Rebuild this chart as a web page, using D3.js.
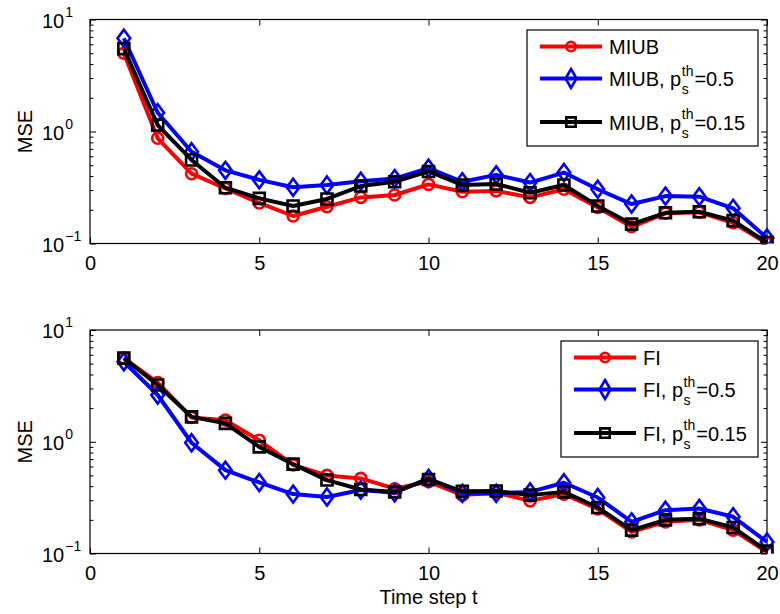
<!DOCTYPE html>
<html>
<head>
<meta charset="utf-8">
<script src="https://cdn.jsdelivr.net/npm/d3@7"></script>
<style>
  html, body { margin: 0; padding: 0; background: #fff; }
  svg { display: block; }
</style>
</head>
<body>
<svg id="chart" width="780" height="614"></svg>
<script>
// ---------------- data ----------------
const timeSteps = [1, 2, 3, 4, 5, 6, 7, 8, 9, 10, 11, 12, 13, 14, 15, 16, 17, 18, 19, 20];
const xTicks = [0, 5, 10, 15, 20];
const yMajorTicks = [0.1, 1, 10];
const yTickExponents = ["\u22121", "0", "1"];

const miub     = [5.0, 0.87, 0.42, 0.31, 0.23, 0.176, 0.213, 0.258, 0.271, 0.337, 0.29, 0.295, 0.258, 0.305, 0.21, 0.141, 0.186, 0.19, 0.153, 0.100];
const miub05   = [6.8, 1.47, 0.66, 0.45, 0.37, 0.318, 0.333, 0.36, 0.38, 0.47, 0.356, 0.41, 0.35, 0.43, 0.305, 0.225, 0.265, 0.262, 0.206, 0.112];
const miub015  = [5.5, 1.14, 0.557, 0.315, 0.253, 0.216, 0.25, 0.326, 0.356, 0.44, 0.333, 0.34, 0.284, 0.333, 0.216, 0.149, 0.188, 0.192, 0.16, 0.102];

const fi       = [5.6, 3.38, 1.65, 1.56, 1.03, 0.62, 0.50, 0.47, 0.38, 0.44, 0.333, 0.35, 0.296, 0.34, 0.25, 0.156, 0.192, 0.2, 0.162, 0.103];
const fi05     = [5.2, 2.62, 0.98, 0.557, 0.432, 0.34, 0.32, 0.37, 0.35, 0.47, 0.345, 0.345, 0.356, 0.43, 0.317, 0.192, 0.244, 0.253, 0.213, 0.127];
const fi015    = [5.6, 3.22, 1.67, 1.46, 0.90, 0.63, 0.454, 0.374, 0.356, 0.46, 0.36, 0.362, 0.333, 0.356, 0.258, 0.162, 0.2, 0.205, 0.171, 0.105];

const topSeries = [
  { base: "MIUB", sup: null, val: null, values: miub, color: "#ff0000", marker: "circle" },
  { base: "MIUB, p", sup: "th", sub: "s", val: "=0.5", values: miub05, color: "#0000ff", marker: "diamond" },
  { base: "MIUB, p", sup: "th", sub: "s", val: "=0.15", values: miub015, color: "#000000", marker: "square" }
];
const bottomSeries = [
  { base: "FI", sup: null, val: null, values: fi, color: "#ff0000", marker: "circle" },
  { base: "FI, p", sup: "th", sub: "s", val: "=0.5", values: fi05, color: "#0000ff", marker: "diamond" },
  { base: "FI, p", sup: "th", sub: "s", val: "=0.15", values: fi015, color: "#000000", marker: "square" }
];

// ---------------- drawing ----------------
const FONT = "'Liberation Sans', Arial, Helvetica, sans-serif";
const svg = d3.select("#chart");

const x = d3.scaleLinear().domain([0, 20]).range([90, 767]);

function markerPath(type, big) {
  const s = big ? 1 : 0.85;
  if (type === "circle") {
    const r = 5.5 * s;
    return `M${-r},0A${r},${r} 0 1,0 ${r},0A${r},${r} 0 1,0 ${-r},0Z`;
  }
  if (type === "square") {
    const h = 5.5 * s;
    return `M${-h},${-h}H${h}V${h}H${-h}Z`;
  }
  const w = (big ? 6.3 : 5.5), hh = (big ? 8.5 : 9.5);
  return `M0,${-hh}L${w},0L0,${hh}L${-w},0Z`;
}

function drawPanel(yTop, yBot, series, legendBox, showXLabel) {
  const y = d3.scaleLog().domain([0.1, 10]).range([yBot, yTop]);
  const g = svg.append("g");
  const x0 = x.range()[0], x1 = x.range()[1];

  const allTicks = y.ticks();

  const left = g.append("g").attr("transform", `translate(${x0},0)`)
    .call(d3.axisLeft(y).tickValues(allTicks).tickSizeInner(-6).tickSizeOuter(0).tickFormat(""));
  const right = g.append("g").attr("transform", `translate(${x1},0)`)
    .call(d3.axisRight(y).tickValues(allTicks).tickSizeInner(-6).tickSizeOuter(0).tickFormat(""));
  [left, right].forEach(ax => {
    ax.select(".domain").remove();
    ax.selectAll(".tick line")
      .attr("stroke", "#000").attr("stroke-width", 1)
      .attr("x2", function(d) {
        const isMajor = yMajorTicks.some(m => Math.abs(m - d) < 1e-9);
        const len = isMajor ? 6 : 3.5;
        return ax === left ? len : -len;
      });
  });

  const bottom = g.append("g").attr("transform", `translate(0,${yBot})`)
    .call(d3.axisBottom(x).tickValues(xTicks).tickSizeInner(-6).tickSizeOuter(0).tickPadding(12.5).tickFormat(d3.format("d")));
  bottom.select(".domain").remove();
  bottom.selectAll(".tick line").attr("stroke", "#000");
  bottom.selectAll(".tick text").attr("font-family", FONT).attr("font-size", 20).attr("fill", "#000");
  const topAx = g.append("g").attr("transform", `translate(0,${yTop})`)
    .call(d3.axisTop(x).tickValues(xTicks).tickSizeInner(-6).tickSizeOuter(0).tickFormat(""));
  topAx.select(".domain").remove();
  topAx.selectAll(".tick line").attr("stroke", "#000");

  g.append("rect").attr("x", x0).attr("y", yTop).attr("width", x1 - x0).attr("height", yBot - yTop)
    .attr("fill", "none").attr("stroke", "#000").attr("stroke-width", 1.2);

  yMajorTicks.forEach((v, i) => {
    const t = g.append("text").attr("x", 42).attr("y", y(v) + 8)
      .attr("font-family", FONT).attr("font-size", 20).attr("fill", "#000");
    t.append("tspan").text("10");
    t.append("tspan").attr("font-size", 14).attr("dy", -11).attr("dx", 1).text(yTickExponents[i]);
  });

  g.append("text")
    .attr("transform", `translate(32,${(yTop + yBot) / 2}) rotate(-90)`)
    .attr("text-anchor", "middle").attr("font-family", FONT).attr("font-size", 20).attr("fill", "#000")
    .text("MSE");

  const clipId = "clip" + Math.round(yTop);
  g.append("clipPath").attr("id", clipId).append("rect")
    .attr("x", x0 - 20).attr("y", yTop - 20).attr("width", x1 - x0 + 40).attr("height", yBot - yTop + 20);
  const plot = g.append("g").attr("clip-path", `url(#${clipId})`);
  const line = d3.line().x((d, i) => x(timeSteps[i])).y(d => y(d));
  series.forEach(s => {
    plot.append("path").datum(s.values).attr("d", line)
      .attr("fill", "none").attr("stroke", s.color).attr("stroke-width", 4)
      .attr("stroke-linejoin", "round");
    plot.selectAll(null).data(s.values).enter().append("path")
      .attr("transform", (d, i) => `translate(${x(timeSteps[i])},${y(d)})`)
      .attr("d", markerPath(s.marker, true))
      .attr("fill", "none").attr("stroke", s.color).attr("stroke-width", 2.6);
  });

  const lg = g.append("g");
  lg.append("rect").attr("x", legendBox.x).attr("y", legendBox.y)
    .attr("width", legendBox.w).attr("height", legendBox.h)
    .attr("fill", "#fff").attr("stroke", "#000").attr("stroke-width", 1.2);
  const rowOff = [16.5, 48.5, 92];
  series.forEach((s, i) => {
    const ly = legendBox.y + rowOff[i];
    const lx = legendBox.x;
    lg.append("line").attr("x1", lx + 13).attr("x2", lx + 75).attr("y1", ly).attr("y2", ly)
      .attr("stroke", s.color).attr("stroke-width", 4);
    lg.append("path").attr("transform", `translate(${lx + 44},${ly})`)
      .attr("d", markerPath(s.marker, false))
      .attr("fill", "none").attr("stroke", s.color).attr("stroke-width", 2.6);
    const tx = lx + 82, ty = ly + 7.5;
    const main = lg.append("text").attr("x", tx).attr("y", ty)
      .attr("font-family", FONT).attr("font-size", 20).attr("fill", "#000").text(s.base);
    if (s.sup) {
      const w = main.node().getComputedTextLength();
      lg.append("text").attr("x", tx + w + 0.5).attr("y", ty + 8)
        .attr("font-family", FONT).attr("font-size", 14).attr("fill", "#000").text(s.sub);
      const sup = lg.append("text").attr("x", tx + w + 0.5).attr("y", ty - 10.5)
        .attr("font-family", FONT).attr("font-size", 14).attr("fill", "#000").text(s.sup);
      const ws = sup.node().getComputedTextLength();
      lg.append("text").attr("x", tx + w + ws + 1.5).attr("y", ty)
        .attr("font-family", FONT).attr("font-size", 20).attr("fill", "#000").text(s.val);
    }
  });

  if (showXLabel) {
    g.append("text").attr("x", x(10)).attr("y", yBot + 50)
      .attr("text-anchor", "middle").attr("font-family", FONT).attr("font-size", 20).attr("fill", "#000")
      .text("Time step t");
  }
}

drawPanel(19.5, 243.5, topSeries, { x: 527, y: 30, w: 231, h: 116 }, false);
drawPanel(330, 553.5, bottomSeries, { x: 561, y: 341, w: 197, h: 116 }, true);
</script>
</body>
</html>
